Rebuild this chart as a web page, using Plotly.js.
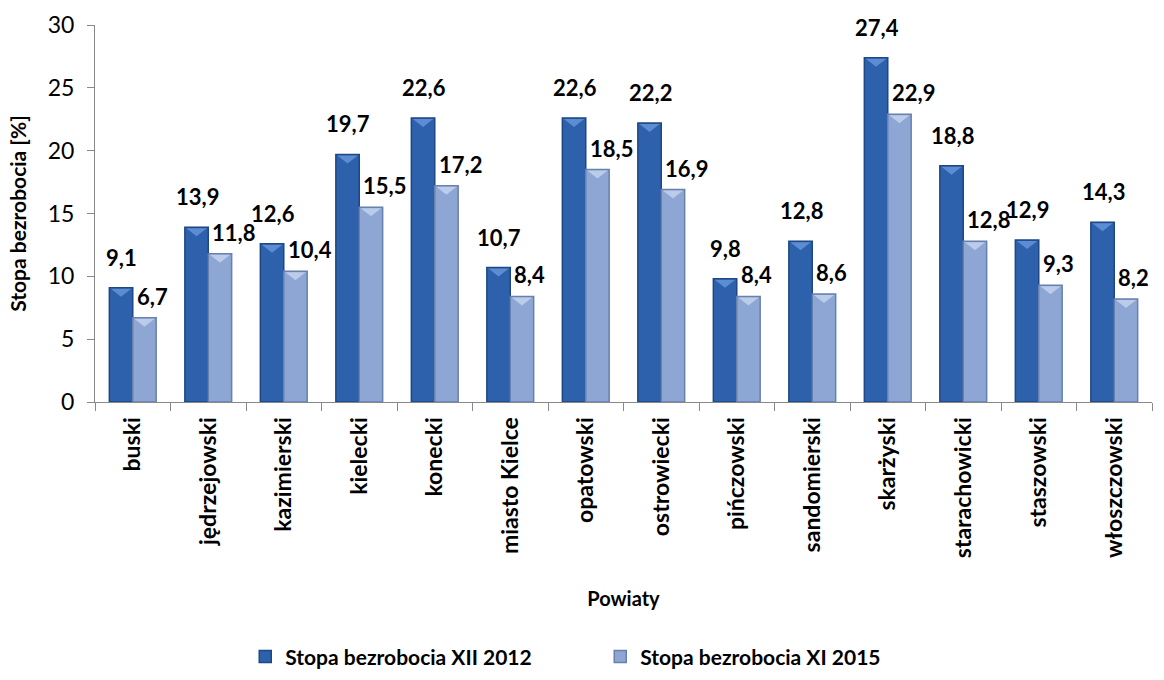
<!DOCTYPE html>
<html><head><meta charset="utf-8">
<script src="https://cdn.plot.ly/plotly-3.0.1.min.js"></script>
<style>body{margin:0}#chart{width:1164px;height:680px}</style>
</head><body><div id="chart"></div>
<script>
const categories = ["buski","jędrzejowski","kazimierski","kielecki","konecki","miasto Kielce","opatowski","ostrowiecki","pińczowski","sandomierski","skarżyski","starachowicki","staszowski","włoszczowski"];
const rate2012 = [9.1,13.9,12.6,19.7,22.6,10.7,22.6,22.2,9.8,12.8,27.4,18.8,12.9,14.3];
const rate2015 = [6.7,11.8,10.4,15.5,17.2,8.4,18.5,16.9,8.4,8.6,22.9,12.8,9.3,8.2];
const seriesNames = ["Stopa bezrobocia XII 2012","Stopa bezrobocia XI 2015"];

const FONT = "Lato, 'Open Sans', sans-serif";
const fmt = v => v.toFixed(1).replace('.', ',');

const traces = [
  {type:'bar', name:seriesNames[0], x:categories, y:rate2012,
   marker:{color:'#2D61AC', line:{color:'#1D4785', width:1.5}}, hoverinfo:'y'},
  {type:'bar', name:seriesNames[1], x:categories, y:rate2015,
   marker:{color:'#8DA6D4', line:{color:'#6880AE', width:1.5}}, hoverinfo:'y'}
];

// bevel decoration: a small downward triangle at the top of each bar (pixel-sized, anchored at the data value)
const BW = 23.4, BH = 9;
const shapes = [];
categories.forEach((c,i)=>{
  shapes.push({type:'path', xref:'x', yref:'y', xsizemode:'pixel', ysizemode:'pixel', xanchor:i, yanchor:rate2012[i],
    path:`M ${-BW+1.5} -1 L -1.5 -1 L ${-BW/2} ${-BH} Z`, fillcolor:'#5C8CD2', line:{width:0}, layer:'above'});
  shapes.push({type:'path', xref:'x', yref:'y', xsizemode:'pixel', ysizemode:'pixel', xanchor:i, yanchor:rate2015[i],
    path:`M 1.5 -1 L ${BW-1.5} -1 L ${BW/2} ${-BH} Z`, fillcolor:'#BBCBEA', line:{width:0}, layer:'above'});
});

const annotations = [];
categories.forEach((c,i)=>{
  annotations.push({x:c, y:rate2012[i], text:fmt(rate2012[i]), showarrow:false, xshift:-11, yshift:15, yanchor:'bottom',
    font:{family:FONT, size:22, color:'#000', weight:'bold'}});
  annotations.push({x:c, y:rate2015[i], text:fmt(rate2015[i]), showarrow:false, xanchor:'left', xshift:2, yshift:6, yanchor:'bottom',
    font:{family:FONT, size:22, color:'#000', weight:'bold'}});
});

const layout = {
  width:1164, height:680,
  margin:{l:95, r:12, t:25, b:278},
  paper_bgcolor:'#fff', plot_bgcolor:'#fff',
  font:{family:FONT, color:'#000'},
  barmode:'group', bargap:0.38, bargroupgap:0,
  showlegend:true,
  legend:{orientation:'h', x:0.478, xanchor:'center', yref:'container', y:0.034, yanchor:'middle',
    font:{family:FONT, size:21, weight:'bold'}, itemwidth:30,
    entrywidth:310, entrywidthmode:'pixels'},
  xaxis:{type:'category', automargin:false, showline:true, linecolor:'#888', linewidth:1,
    ticks:'outside', tickson:'boundaries', ticklen:8, tickcolor:'#888', ticklabelstandoff:5,
    tickangle:-90, tickfont:{family:FONT, size:23, weight:'bold'},
    title:{text:'Powiaty', font:{family:FONT, size:20, weight:'bold'}, standoff:34},
    showgrid:false, zeroline:false},
  yaxis:{range:[0,30], dtick:5, automargin:false, showline:true, linecolor:'#888', linewidth:1,
    ticks:'outside', ticklen:7, tickcolor:'#888', ticklabelstandoff:8, tickfont:{family:FONT, size:23},
    title:{text:'Stopa bezrobocia [%]', font:{family:FONT, size:21, weight:'bold'}, standoff:15},
    showgrid:false, zeroline:false},
  shapes:shapes,
  annotations:annotations
};
Plotly.newPlot('chart', traces, layout, {displayModeBar:false});
</script></body></html>
